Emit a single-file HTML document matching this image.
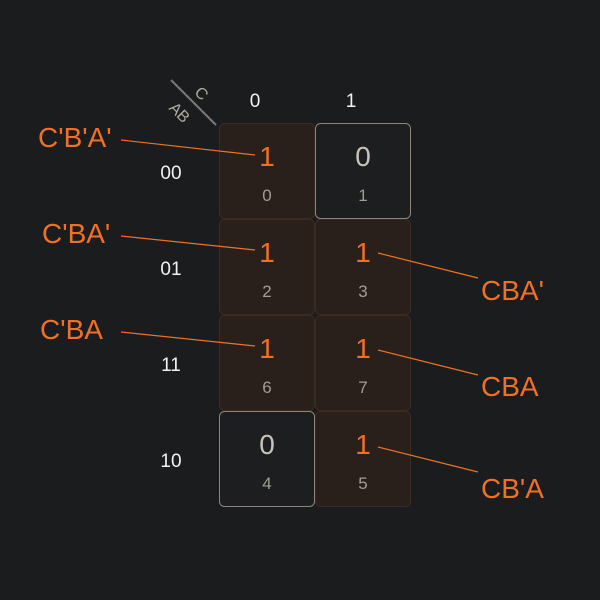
<!DOCTYPE html>
<html><head><style>
html,body{margin:0;padding:0;background:#1b1c1e;}
svg{display:block;}
text{font-family:"Liberation Sans",sans-serif;}
</style></head><body>
<svg width="600" height="600" viewBox="0 0 600 600" xmlns="http://www.w3.org/2000/svg">
<rect width="600" height="600" fill="#1b1c1e"/>
<line x1="171" y1="80" x2="216" y2="125" stroke="#77797b" stroke-width="2"/>
<text x="202" y="99" font-size="16" fill="#b0a89c" text-anchor="middle" transform="rotate(45 202 93)">C</text>
<text x="180" y="118" font-size="16" fill="#b0a89c" text-anchor="middle" transform="rotate(45 180 112)">AB</text>
<text x="255" y="107" font-size="19" fill="#f0f2f5" text-anchor="middle">0</text>
<text x="351" y="107" font-size="19" fill="#f0f2f5" text-anchor="middle">1</text>
<g font-size="19" fill="#f0f2f5" text-anchor="middle">
<text x="171" y="179">00</text>
<text x="171" y="275">01</text>
<text x="171" y="371">11</text>
<text x="171" y="467">10</text>
</g>
<g stroke-width="1">
<rect x="219.5" y="123.5" width="95" height="95" rx="5" fill="#2a201b" stroke="#3b2a1f"/>
<rect x="315.5" y="123.5" width="95" height="95" rx="5" fill="#1c1e20" stroke="#8e857a"/>
<rect x="219.5" y="219.5" width="95" height="95" rx="5" fill="#2a201b" stroke="#3b2a1f"/>
<rect x="315.5" y="219.5" width="95" height="95" rx="5" fill="#2a201b" stroke="#3b2a1f"/>
<rect x="219.5" y="315.5" width="95" height="95" rx="5" fill="#2a201b" stroke="#3b2a1f"/>
<rect x="315.5" y="315.5" width="95" height="95" rx="5" fill="#2a201b" stroke="#3b2a1f"/>
<rect x="219.5" y="411.5" width="95" height="95" rx="5" fill="#1c1e20" stroke="#8e857a"/>
<rect x="315.5" y="411.5" width="95" height="95" rx="5" fill="#2a201b" stroke="#3b2a1f"/>
</g>
<g font-size="28" text-anchor="middle">
<text x="267" y="166" fill="#f07025">1</text>
<text x="363" y="166" fill="#c8c2b8">0</text>
<text x="267" y="262" fill="#f07025">1</text>
<text x="363" y="262" fill="#f07025">1</text>
<text x="267" y="358" fill="#f07025">1</text>
<text x="363" y="358" fill="#f07025">1</text>
<text x="267" y="454" fill="#c8c2b8">0</text>
<text x="363" y="454" fill="#f07025">1</text>
</g>
<g font-size="17" text-anchor="middle" fill="#a49c90">
<text x="267" y="201">0</text>
<text x="363" y="201">1</text>
<text x="267" y="297">2</text>
<text x="363" y="297">3</text>
<text x="267" y="393">6</text>
<text x="363" y="393">7</text>
<text x="267" y="489">4</text>
<text x="363" y="489">5</text>
</g>
<g stroke="#f07025" stroke-width="1.2">
<line x1="121" y1="140" x2="255" y2="155"/>
<line x1="121" y1="236" x2="255" y2="250"/>
<line x1="121" y1="332" x2="255" y2="346"/>
<line x1="378" y1="253" x2="478" y2="278"/>
<line x1="378" y1="350" x2="478" y2="375"/>
<line x1="378" y1="447" x2="478" y2="472"/>
</g>
<g font-size="28" fill="#f07025">
<text x="38" y="147">C'B'A'</text>
<text x="42" y="243">C'BA'</text>
<text x="40" y="339">C'BA</text>
<text x="481" y="300">CBA'</text>
<text x="481" y="396">CBA</text>
<text x="481" y="498">CB'A</text>
</g>
</svg>
</body></html>
